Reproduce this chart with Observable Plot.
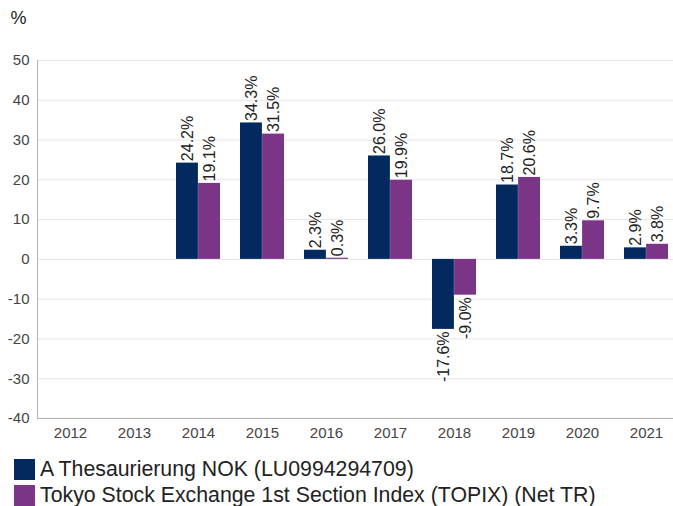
<!DOCTYPE html>
<html><head><meta charset="utf-8">
<script src="https://cdn.jsdelivr.net/npm/d3@7"></script>
<script src="https://cdn.jsdelivr.net/npm/@observablehq/plot@0.6"></script>
<style>
body{margin:0;background:#fff;font-family:"Liberation Sans",Arial,sans-serif;}
#legend{margin-top:11px;padding-left:14px;}
.row{display:flex;align-items:center;height:26.5px;font-size:21.3px;color:#222;white-space:nowrap;}
.sw{width:21px;height:21px;margin-right:5px;flex:none;}
</style></head><body>
<div id="chart"></div>
<div id="legend"></div>
<script>
const years = ["2012","2013","2014","2015","2016","2017","2018","2019","2020","2021"];
const seriesNames = ["A Thesaurierung NOK (LU0994294709)", "Tokyo Stock Exchange 1st Section Index (TOPIX) (Net TR)"];
const fundValues = [null, null, 24.2, 34.3, 2.3, 26.0, -17.6, 18.7, 3.3, 2.9];
const indexValues = [null, null, 19.1, 31.5, 0.3, 19.9, -9.0, 20.6, 9.7, 3.8];
const colors = ["#022a5e", "#7b3586"];
const yTicks = [-40, -30, -20, -10, 0, 10, 20, 30, 40, 50];

const data = [];
years.forEach((y, i) => {
  if (fundValues[i] != null) data.push({year: y, series: seriesNames[0], s: 0, value: fundValues[i]});
  if (indexValues[i] != null) data.push({year: y, series: seriesNames[1], s: 1, value: indexValues[i]});
});
const fmt = d => d.value.toFixed(1) + "%";
const bandInset = [[10, 32.1], [32.1, 10]];
const labelDx = [-11, 11];

const marks = [
  Plot.ruleY(yTicks, {stroke: "#e6e6e6", strokeWidth: 1}),
  Plot.frame({anchor: "left", stroke: "#b3b3b3"}),
  Plot.frame({anchor: "bottom", stroke: "#b3b3b3"}),
  Plot.axisY({ticks: yTicks, tickFormat: d => String(d), tickSize: 0, tickPadding: 8, fontSize: 15, fill: "#444", label: null}),
  Plot.axisX({tickSize: 0, tickPadding: 9, fontSize: 15, fill: "#444", label: null}),
  Plot.text(["%"], {frameAnchor: "top-left", dx: -27, dy: -49, fontSize: 18, textAnchor: "start", fill: "#222"})
];
[0, 1].forEach(s => {
  const sub = data.filter(d => d.s === s);
  marks.push(Plot.barY(sub, {x: "year", y: "value", fill: "series", insetLeft: bandInset[s][0], insetRight: bandInset[s][1]}));
  marks.push(Plot.text(sub.filter(d => d.value >= 0), {x: "year", y: "value", text: fmt, rotate: -90, textAnchor: "start", dx: labelDx[s], dy: -2, fontSize: 16, fill: "#222"}));
  marks.push(Plot.text(sub.filter(d => d.value < 0), {x: "year", y: "value", text: fmt, rotate: -90, textAnchor: "end", dx: labelDx[s], dy: 2, fontSize: 16, fill: "#222"}));
});

const chart = Plot.plot({
  width: 673,
  height: 445,
  marginTop: 60,
  marginBottom: 27,
  marginLeft: 37,
  marginRight: 0,
  style: {fontFamily: "'Liberation Sans', Arial, sans-serif", background: "#fff", overflow: "hidden"},
  x: {type: "band", domain: years, range: [37.6, 679], padding: 0},
  y: {domain: [-40, 50]},
  color: {domain: seriesNames, range: colors},
  marks
});
document.getElementById("chart").appendChild(chart);

const legend = document.getElementById("legend");
seriesNames.forEach((n, i) => {
  const row = document.createElement("div");
  row.className = "row";
  const sw = document.createElement("div");
  sw.className = "sw";
  sw.style.background = colors[i];
  const t = document.createElement("span");
  t.textContent = n;
  row.appendChild(sw); row.appendChild(t);
  legend.appendChild(row);
});
</script>
</body></html>
